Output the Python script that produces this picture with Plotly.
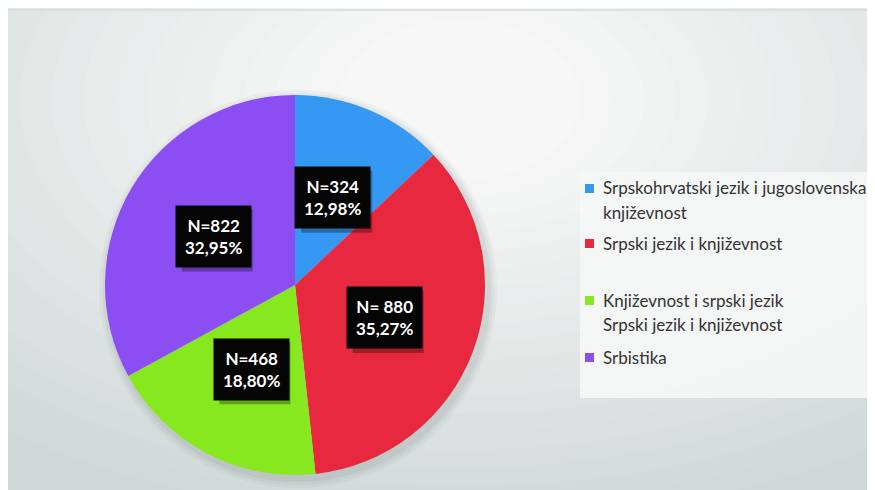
import math
import plotly.graph_objects as go

W, H = 875, 490
OFF = 8  # the page body margin shifts the figure by this many pixels

categories = [
    "Srpskohrvatski jezik i jugoslovenska<br>književnost",
    "Srpski jezik i književnost",
    "Književnost i srpski jezik<br>Srpski jezik i književnost",
    "Srbistika",
]
counts = [324, 880, 468, 822]
count_labels = ["N=324", "N= 880", "N=468", "N=822"]
percent_labels = ["12,98%", "35,27%", "18,80%", "32,95%"]
colors = ["#3598f2", "#e8283e", "#88e81f", "#8b4ef2"]


def px(x):
    return (x - OFF) / W


def py(y):
    return 1 - (y - OFF) / H


# pie placement in page pixels
cx, cy, r = 295, 285, 190

fig = go.Figure()
fig.add_trace(
    go.Pie(
        labels=[c.replace("<br>", " ") for c in categories],
        values=counts,
        sort=False,
        direction="clockwise",
        rotation=0,
        marker={"colors": colors, "line": {"width": 0}},
        textinfo="none",
        hoverinfo="label+value+percent",
        showlegend=False,
        domain={"x": [px(cx - r), px(cx + r)], "y": [py(cy + r), py(cy - r)]},
    )
)

shapes = []
# background with a soft radial lightening towards the upper middle
shapes.append(dict(type="rect", xref="paper", yref="paper", x0=0, x1=1, y0=0, y1=1,
                   fillcolor="#cfd8d7", line={"width": 0}, layer="below"))
steps = 20
start, end = (0xcf, 0xd8, 0xd7), (0xf7, 0xf7, 0xf7)
for i in range(1, steps + 1):
    t = i / steps
    c = tuple(round(a + (b - a) * t) for a, b in zip(start, end))
    rx = 760 - i * 32
    ry = 440 - i * 18
    shapes.append(dict(type="circle", xref="paper", yref="paper",
                       x0=px(460 - rx), x1=px(460 + rx), y0=py(100 + ry), y1=py(100 - ry),
                       fillcolor="rgb(%d,%d,%d)" % c, line={"width": 0}, layer="below"))
# pie shadow
for i, a in enumerate([0.04, 0.05, 0.06]):
    rr = r + 9 - i * 3
    shapes.append(dict(type="circle", xref="paper", yref="paper",
                       x0=px(cx - rr + 3), x1=px(cx + rr + 3), y0=py(cy + rr + 4), y1=py(cy - rr + 4),
                       fillcolor=f"rgba(60,70,70,{a})", line={"width": 0}, layer="below"))
shapes.append(dict(type="line", xref="paper", yref="paper", x0=0, x1=1, y0=py(10), y1=py(10),
                   line={"color": "#d5dcdb", "width": 1.5}, layer="below"))
# legend box
shapes.append(dict(type="rect", xref="paper", yref="paper", x0=px(580), x1=1, y0=py(398), y1=py(172),
                   fillcolor="rgba(244,245,245,0.95)", line={"width": 0}, layer="below"))

annotations = []
# slice labels in black boxes
bw, bh = 71, 62
total = sum(counts)
cum = 0
for n, p, v in zip(count_labels, percent_labels, counts):
    theta = 2 * math.pi * (cum + v / 2) / total
    cum += v
    lx = cx + 0.5 * r * math.sin(theta)
    ly = cy - 0.5 * r * math.cos(theta)
    shapes.append(dict(type="rect", xref="paper", yref="paper", layer="above",
                       x0=px(lx - bw / 2 + 4), x1=px(lx + bw / 2 + 4),
                       y0=py(ly + bh / 2 + 4), y1=py(ly - bh / 2 + 4),
                       fillcolor="rgba(0,0,0,0.3)", line={"width": 0}))
    annotations.append(dict(text=f"<b>{n}<br>{p}</b>", xref="paper", yref="paper",
                            x=px(lx), y=py(ly), showarrow=False, borderpad=9,
                            align="center", xanchor="center", yanchor="middle",
                            font={"family": "Lato", "size": 17, "color": "white"},
                            bgcolor="#050505"))

# manual legend
first_line_y = [188, 243, 300, 357]
for cat, col, y0 in zip(categories, colors, first_line_y):
    shapes.append(dict(type="rect", xref="paper", yref="paper", x0=px(585), x1=px(594),
                       y0=py(y0 + 5), y1=py(y0 - 4), fillcolor=col, line={"width": 0}))
    for j, line in enumerate(cat.split("<br>")):
        annotations.append(dict(xref="paper", yref="paper", x=px(601), y=py(y0 + 24 * j),
                                text=line, showarrow=False, xanchor="left", yanchor="middle",
                                font={"family": "Lato", "size": 17, "color": "#333333"}))

fig.update_layout(
    width=W,
    height=H,
    margin={"l": 0, "r": 0, "t": 0, "b": 0},
    paper_bgcolor="white",
    plot_bgcolor="white",
    shapes=shapes,
    annotations=annotations,
    font={"family": "Lato"},
)

fig.write_html("out.html")
